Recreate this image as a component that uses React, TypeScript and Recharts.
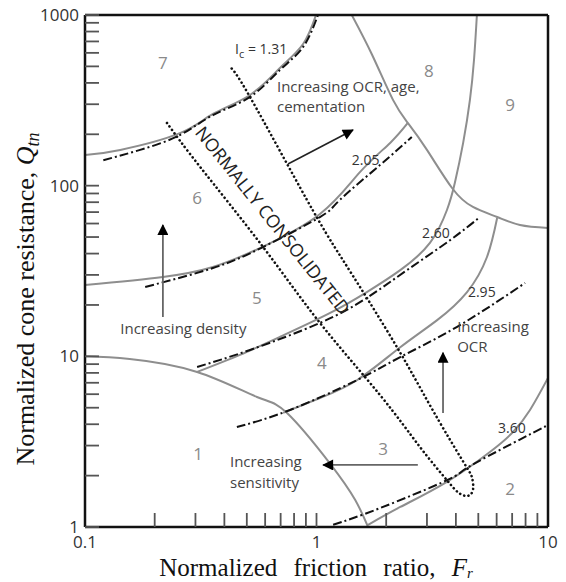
import React from 'react';
import { ComposedChart, Line, Scatter, XAxis, YAxis } from 'recharts';

type Pt = { x: number; y: number };
type Lbl = { x: number; y: number; text: string };

// ---- axis ticks ----
const xTicks = [0.1, 0.2, 0.3, 0.4, 0.5, 0.6, 0.7, 0.8, 0.9, 1, 2, 3, 4, 5, 6, 7, 8, 9, 10];
const yTicks = [1, 2, 3, 4, 5, 6, 7, 8, 9, 10, 20, 30, 40, 50, 60, 70, 80, 90, 100, 200, 300, 400, 500, 600, 700, 800, 900, 1000];
const xTickLabels = [0.1, 1, 10];
const yTickLabels = [1, 10, 100, 1000];

// ---- zone boundaries (gray) ----
const zone1Boundary: Pt[] = [
  { x: 0.1, y: 10.0 }, { x: 0.156, y: 9.65 }, { x: 0.305, y: 8.1 }, { x: 0.553, y: 5.78 },
  { x: 0.746, y: 4.66 }, { x: 1.14, y: 2.37 }, { x: 1.47, y: 1.44 }, { x: 1.67, y: 1.0 },
];
const zone2Boundary: Pt[] = [
  { x: 1.67, y: 1.03 }, { x: 2.3, y: 1.31 }, { x: 3.66, y: 1.84 }, { x: 5.61, y: 2.75 },
  { x: 7.06, y: 3.6 }, { x: 8.36, y: 4.85 }, { x: 10, y: 7.47 },
];
const zone34Boundary: Pt[] = [
  { x: 0.717, y: 4.66 }, { x: 1.035, y: 5.7 }, { x: 1.5, y: 7.27 }, { x: 2.3, y: 11.3 },
  { x: 3.32, y: 16.3 }, { x: 4.47, y: 23.8 }, { x: 5.45, y: 38.2 }, { x: 6.03, y: 64.7 },
];
const zone45Boundary: Pt[] = [
  { x: 0.305, y: 8.1 }, { x: 0.467, y: 10.2 }, { x: 0.695, y: 13.0 }, { x: 1.14, y: 17.9 },
  { x: 1.65, y: 23.8 }, { x: 2.3, y: 32.0 }, { x: 3.09, y: 46.2 }, { x: 3.66, y: 72.0 },
  { x: 3.96, y: 104 }, { x: 4.3, y: 178 }, { x: 4.6, y: 318 }, { x: 4.79, y: 545 }, { x: 4.93, y: 1000 },
];
const zone56Boundary: Pt[] = [
  { x: 0.1, y: 26.2 }, { x: 0.217, y: 29.2 }, { x: 0.357, y: 33.4 }, { x: 0.57, y: 43.1 },
  { x: 1.035, y: 68.2 }, { x: 1.54, y: 120 }, { x: 2.08, y: 178 }, { x: 2.48, y: 233 },
];
const zone67Boundary: Pt[] = [
  { x: 0.1, y: 151 }, { x: 0.142, y: 162 }, { x: 0.257, y: 203 }, { x: 0.357, y: 263 },
  { x: 0.516, y: 340 }, { x: 0.695, y: 489 }, { x: 0.875, y: 676 }, { x: 0.995, y: 1000 },
];
const zone8Boundary: Pt[] = [
  { x: 1.42, y: 1000 }, { x: 1.74, y: 583 }, { x: 2.14, y: 318 }, { x: 2.48, y: 233 },
  { x: 3.0, y: 162 }, { x: 3.85, y: 96.9 }, { x: 4.74, y: 75.0 }, { x: 6.03, y: 65.5 },
  { x: 7.57, y: 58.8 }, { x: 10, y: 56.5 },
];

// ---- Ic contours (dash-dot) ----
const ic131: Pt[] = [
  { x: 0.12, y: 141 }, { x: 0.173, y: 162 }, { x: 0.257, y: 198 }, { x: 0.357, y: 259 },
  { x: 0.516, y: 331 }, { x: 0.695, y: 476 }, { x: 0.875, y: 649 }, { x: 1.015, y: 1000 },
];
const ic205: Pt[] = [
  { x: 0.182, y: 25.5 }, { x: 0.357, y: 32.9 }, { x: 0.588, y: 43.7 }, { x: 1.035, y: 65.5 },
  { x: 1.26, y: 82.4 }, { x: 1.88, y: 132 }, { x: 2.58, y: 193 },
];
const ic260: Pt[] = [
  { x: 0.305, y: 8.66 }, { x: 0.516, y: 10.9 }, { x: 1.035, y: 15.7 }, { x: 1.65, y: 22.0 },
  { x: 2.46, y: 32.0 }, { x: 3.78, y: 48.0 }, { x: 5.08, y: 65.5 },
];
const ic295: Pt[] = [
  { x: 0.453, y: 3.85 }, { x: 0.768, y: 4.85 }, { x: 1.5, y: 7.27 }, { x: 2.3, y: 9.9 },
  { x: 4.05, y: 14.9 }, { x: 7.96, y: 26.9 },
];
const ic360: Pt[] = [
  { x: 1.18, y: 1.03 }, { x: 1.88, y: 1.29 }, { x: 3.66, y: 1.88 }, { x: 4.47, y: 2.22 },
  { x: 7.06, y: 3.1 }, { x: 10, y: 3.96 },
];

// ---- normally consolidated band (dotted loop) ----
const ncBand: Pt[] = [
  { x: 0.226, y: 233 }, { x: 0.314, y: 129 }, { x: 0.588, y: 43.7 }, { x: 1.035, y: 15.7 },
  { x: 1.88, y: 5.94 }, { x: 2.8, y: 2.94 }, { x: 3.66, y: 1.88 }, { x: 4.08, y: 1.6 },
  { x: 4.47, y: 1.52 }, { x: 4.74, y: 1.65 }, { x: 4.7, y: 1.94 }, { x: 4.47, y: 2.22 },
  { x: 3.78, y: 3.23 }, { x: 3.0, y: 5.55 }, { x: 2.3, y: 10.5 }, { x: 1.65, y: 22.0 },
  { x: 1.26, y: 39.2 }, { x: 0.91, y: 82.4 }, { x: 0.516, y: 331 }, { x: 0.423, y: 496 },
];

// ---- arrows ----
const arrowOcrAge: Pt[] = [{ x: 0.753, y: 134 }, { x: 1.438, y: 212 }];
const arrowDensity: Pt[] = [{ x: 0.217, y: 17.0 }, { x: 0.217, y: 58.8 }];
const arrowSensitivity: Pt[] = [{ x: 2.74, y: 2.31 }, { x: 1.067, y: 2.31 }];
const arrowOcr: Pt[] = [{ x: 3.52, y: 4.66 }, { x: 3.52, y: 10.5 }];

// ---- text ----
const zoneLabels: Lbl[] = [
  { x: 0.217, y: 530, text: '7' }, { x: 3.06, y: 476, text: '8' }, { x: 6.86, y: 297, text: '9' },
  { x: 0.305, y: 84.7, text: '6' }, { x: 0.553, y: 22.0, text: '5' }, { x: 1.056, y: 9.26, text: '4' },
  { x: 1.94, y: 2.9, text: '3' }, { x: 0.308, y: 2.71, text: '1' }, { x: 6.86, y: 1.69, text: '2' },
];
const icTitleLabel: Lbl[] = [{ x: 0.445, y: 591, text: ' = 1.31' }];
const icValueLabels: Lbl[] = [
  { x: 1.42, y: 132, text: '2.05' }, { x: 2.856, y: 49.4, text: '2.60' },
  { x: 4.51, y: 22.3, text: '2.95' }, { x: 6.08, y: 3.55, text: '3.60' },
];
const noteLabels: Lbl[] = [
  { x: 0.675, y: 354, text: 'Increasing OCR, age,' }, { x: 0.675, y: 270, text: 'cementation' },
  { x: 0.142, y: 13.5, text: 'Increasing density' },
  { x: 0.423, y: 2.25, text: 'Increasing' }, { x: 0.423, y: 1.69, text: 'sensitivity' },
  { x: 4.05, y: 13.9, text: 'Increasing' }, { x: 4.05, y: 10.6, text: 'OCR' },
];
const ncLabel: Lbl[] = [{ x: 0.649, y: 62.9, text: 'NORMALLY CONSOLIDATED' }];

const SANS = 'Open Sans, DejaVu Sans, sans-serif';
const SERIF = 'Liberation Serif, Times New Roman, serif';
const GRAY = '#8e8e8e';

const zoneShape = (p: any) => (
  <text x={p.cx} y={p.cy} textAnchor="middle" dominantBaseline="central" fontSize={17} fill="#8a8a8a" fontFamily={SANS}>
    {p.payload.text}
  </text>
);
const icValueShape = (p: any) => (
  <text x={p.cx} y={p.cy} textAnchor="start" fontSize={14} fill="#333" fontFamily={SANS}>
    {p.payload.text}
  </text>
);
const icTitleShape = (p: any) => (
  <text x={p.cx} y={p.cy} textAnchor="start" fontSize={14} fill="#333" fontFamily={SANS}>
    I<tspan dy={4} fontSize={11}>c</tspan><tspan dy={-4}>{p.payload.text}</tspan>
  </text>
);
const noteShape = (p: any) => (
  <text x={p.cx} y={p.cy} textAnchor="start" fontSize={15} fill="#444" fontFamily={SANS}>
    {p.payload.text}
  </text>
);
const ncShape = (p: any) => (
  <text
    x={p.cx}
    y={p.cy}
    transform={`rotate(51.3 ${p.cx} ${p.cy})`}
    textAnchor="middle"
    dominantBaseline="central"
    fontSize={18}
    fill="#222"
    fontFamily={SANS}
  >
    {p.payload.text}
  </text>
);

const lineBase = { dataKey: 'y', dot: false, activeDot: false, isAnimationActive: false, legendType: 'none' as const };

export default function App() {
  const grayLines = [zone1Boundary, zone2Boundary, zone34Boundary, zone45Boundary, zone56Boundary, zone67Boundary, zone8Boundary];
  const icLines = [ic131, ic205, ic260, ic295, ic360];
  const fmtX = (v: number) => (xTickLabels.includes(v) ? String(v) : '');
  const fmtY = (v: number) => (yTickLabels.includes(v) ? String(v) : '');
  const tickStyle = { fontSize: 17, fill: '#333', fontFamily: SANS };
  const axisLine = { stroke: '#111', strokeWidth: 2.5 };
  const tickLine = { stroke: '#555', strokeWidth: 1.8 };
  return (
    <div style={{ position: 'absolute', left: 0, top: 0, width: 566, height: 582 }}>
      <ComposedChart width={566} height={582} margin={{ top: 14, right: 17, bottom: 0, left: 15 }}>
        <defs>
          <marker id="arrowHead" viewBox="0 0 12 12" refX="11" refY="6" markerWidth="12" markerHeight="11" markerUnits="userSpaceOnUse" orient="auto">
            <path d="M0,0 L12,6 L0,12 z" fill="#000" />
          </marker>
        </defs>
        <XAxis
          xAxisId={0}
          dataKey="x"
          type="number"
          scale="log"
          domain={[0.1, 10]}
          allowDataOverflow
          ticks={xTicks}
          interval={0}
          tickFormatter={fmtX}
          tickSize={-14}
          tickMargin={23}
          height={55}
          tick={tickStyle}
          axisLine={axisLine}
          tickLine={tickLine}
        />
        <XAxis
          xAxisId="top"
          orientation="top"
          type="number"
          scale="log"
          domain={[0.1, 10]}
          allowDataOverflow
          ticks={xTicks}
          interval={0}
          tickSize={-14}
          height={1}
          tick={false}
          axisLine={axisLine}
          tickLine={tickLine}
        />
        <YAxis
          yAxisId={0}
          dataKey="y"
          type="number"
          scale="log"
          domain={[1, 1000]}
          allowDataOverflow
          ticks={yTicks}
          interval={0}
          tickFormatter={fmtY}
          tickSize={-14}
          tickMargin={20}
          width={70}
          tick={tickStyle}
          axisLine={axisLine}
          tickLine={tickLine}
        />
        <YAxis
          yAxisId="right"
          orientation="right"
          type="number"
          scale="log"
          domain={[1, 1000]}
          allowDataOverflow
          ticks={yTicks}
          interval={0}
          tickSize={-14}
          width={1}
          tick={false}
          axisLine={axisLine}
          tickLine={tickLine}
        />

        {grayLines.map((d, i) => (
          <Line key={`g${i}`} {...lineBase} data={d} type="natural" stroke={GRAY} strokeWidth={2} />
        ))}
        {icLines.map((d, i) => (
          <Line key={`ic${i}`} {...lineBase} data={d} type="natural" stroke="#111" strokeWidth={2} strokeDasharray="9 3 2 3" />
        ))}
        <Line {...lineBase} data={ncBand} type="natural" stroke="#111" strokeWidth={2.6} strokeDasharray="0.1 4.2" strokeLinecap="round" />

        <Line {...lineBase} data={arrowOcrAge} type="linear" stroke="#222" strokeWidth={1.6} markerEnd="url(#arrowHead)" />
        <Line {...lineBase} data={arrowDensity} type="linear" stroke="#666" strokeWidth={1.8} markerEnd="url(#arrowHead)" />
        <Line {...lineBase} data={arrowSensitivity} type="linear" stroke="#666" strokeWidth={1.8} markerEnd="url(#arrowHead)" />
        <Line {...lineBase} data={arrowOcr} type="linear" stroke="#666" strokeWidth={1.8} markerEnd="url(#arrowHead)" />

        <Scatter data={zoneLabels} shape={zoneShape} isAnimationActive={false} legendType="none" />
        <Scatter data={icTitleLabel} shape={icTitleShape} isAnimationActive={false} legendType="none" />
        <Scatter data={icValueLabels} shape={icValueShape} isAnimationActive={false} legendType="none" />
        <Scatter data={noteLabels} shape={noteShape} isAnimationActive={false} legendType="none" />
        <Scatter data={ncLabel} shape={ncShape} isAnimationActive={false} legendType="none" />

        <text x={316} y={576} textAnchor="middle" fontSize={25} wordSpacing={10} fill="#111" fontFamily={SERIF}>
          Normalized friction ratio,{' '}
          <tspan fontStyle="italic">F</tspan>
          <tspan fontStyle="italic" fontSize={15} dy={2}>r</tspan>
        </text>
        <text transform="translate(34,299) rotate(-90)" x={0} y={0} textAnchor="middle" fontSize={26} fill="#111" fontFamily={SERIF}>
          Normalized cone resistance,{' '}
          <tspan fontStyle="italic">Q</tspan>
          <tspan fontStyle="italic" fontSize={18} dy={5}>tn</tspan>
        </text>
      </ComposedChart>
    </div>
  );
}
